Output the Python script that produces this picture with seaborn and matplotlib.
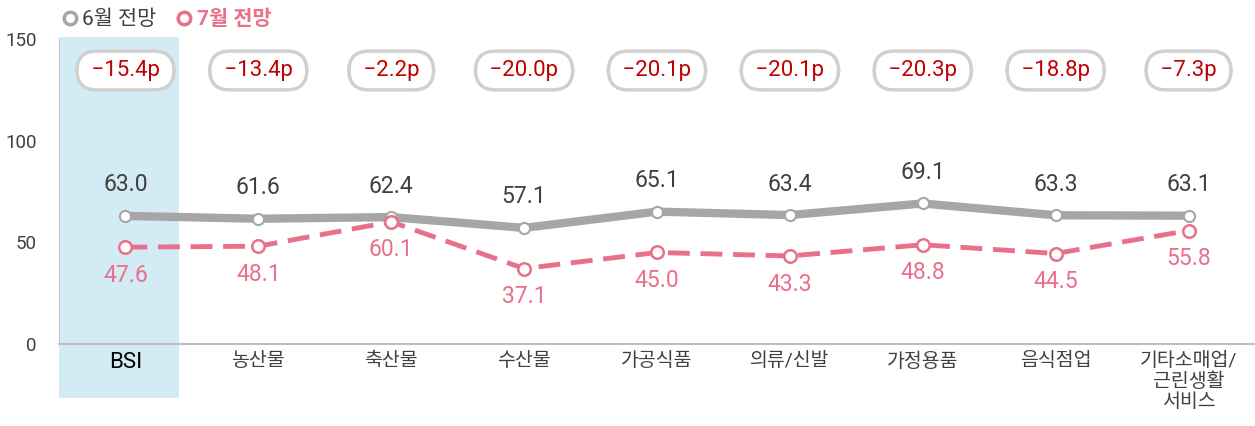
import matplotlib
matplotlib.use('Agg')
import matplotlib.pyplot as plt
import seaborn as sns
from matplotlib.patches import Rectangle
from matplotlib.lines import Line2D
import matplotlib.transforms as mtransforms

categories = ['BSI', '농산물', '축산물', '수산물', '가공식품', '의류/신발', '가정용품', '음식점업', '기타소매업/\n근린생활\n서비스']
june = [63.0, 61.6, 62.4, 57.1, 65.1, 63.4, 69.1, 63.3, 63.1]
july = [47.6, 48.1, 60.1, 37.1, 45.0, 43.3, 48.8, 44.5, 55.8]
diff_labels = ['−15.4p', '−13.4p', '−2.2p', '−20.0p', '−20.1p', '−20.1p', '−20.3p', '−18.8p', '−7.3p']

sns.set_style('white')
plt.rcParams['font.family'] = ['Roboto', 'Noto Sans CJK KR', 'DejaVu Sans']

GRAY = '#A6A6A6'
PINK = '#E8708A'

fig = plt.figure(figsize=(12.55, 4.26), dpi=100)
ax = fig.add_axes([0.047, 0.1925, 0.953, 0.716])

pos = list(range(len(categories)))

# highlight band behind BSI
trans = mtransforms.blended_transform_factory(ax.transData, ax.transAxes)
ax.add_patch(Rectangle((-0.5, -0.177), 0.905, 1.184, transform=trans,
                       facecolor='#D3EBF5', edgecolor='none', clip_on=False, zorder=0))

sns.lineplot(x=pos, y=june, ax=ax, color=GRAY, linewidth=6, marker='o',
             markersize=8, markerfacecolor='white', markeredgecolor=GRAY,
             markeredgewidth=1.5, zorder=3)
sns.lineplot(x=pos, y=july, ax=ax, color=PINK, linewidth=3.5, linestyle=(0, (4.5, 2.2)),
             marker='o', markersize=9, markerfacecolor='white', markeredgecolor=PINK,
             markeredgewidth=1.8, zorder=4)

for i in pos:
    ax.annotate(f'{june[i]:.1f}', (i, june[i]), xytext=(0, 14), textcoords='offset points',
                ha='center', va='bottom', fontsize=16.5, color='#404040')
    ax.annotate(f'{july[i]:.1f}', (i, july[i]), xytext=(0, -12), textcoords='offset points',
                ha='center', va='top', fontsize=16.5, color=PINK)
    # pill-shaped badge with the change
    ax.text(i, 134.5, f' {diff_labels[i]} ', ha='center', va='center', fontsize=16,
            color='#C00000',
            bbox=dict(boxstyle='round,pad=0.4,rounding_size=0.9', facecolor='white',
                      edgecolor='#D0D0D0', linewidth=2.5))

ax.set_xlim(-0.5, 8.5)
ax.set_ylim(0, 150)
ax.set_yticks([0, 50, 100, 150])
ax.set_xticks(pos)
ax.set_xticklabels(categories, fontsize=14, color='#404040', linespacing=1.15, va='top')
ax.get_xticklabels()[0].set_color('#000000')
ax.get_xticklabels()[0].set_fontsize(16)
ax.tick_params(axis='x', length=0, pad=6)
ax.tick_params(axis='y', length=4, color='#BFBFBF', labelsize=13.5, labelcolor='#404040', pad=12)
ax.set_xlabel('')
ax.set_ylabel('')

for s in ['top', 'right']:
    ax.spines[s].set_visible(False)
ax.spines['left'].set_color('#C8C8C8')
ax.spines['bottom'].set_color('#BFBFBF')
ax.spines['bottom'].set_linewidth(1.5)

handles = [
    Line2D([], [], linestyle='none', marker='o', markersize=9, markerfacecolor='white',
           markeredgecolor=GRAY, markeredgewidth=2.5),
    Line2D([], [], linestyle='none', marker='o', markersize=9, markerfacecolor='white',
           markeredgecolor=PINK, markeredgewidth=2.5),
]
leg = fig.legend(handles, ['6월 전망', '7월 전망'], loc='center left',
                 bbox_to_anchor=(0.033, 0.955), ncol=2, frameon=False,
                 handletextpad=0.15, columnspacing=0.9, handlelength=0.9, fontsize=15)
leg.get_texts()[0].set_color('#404040')
leg.get_texts()[1].set_color(PINK)
leg.get_texts()[1].set_fontweight('bold')

fig.savefig('out.png', dpi=100)
